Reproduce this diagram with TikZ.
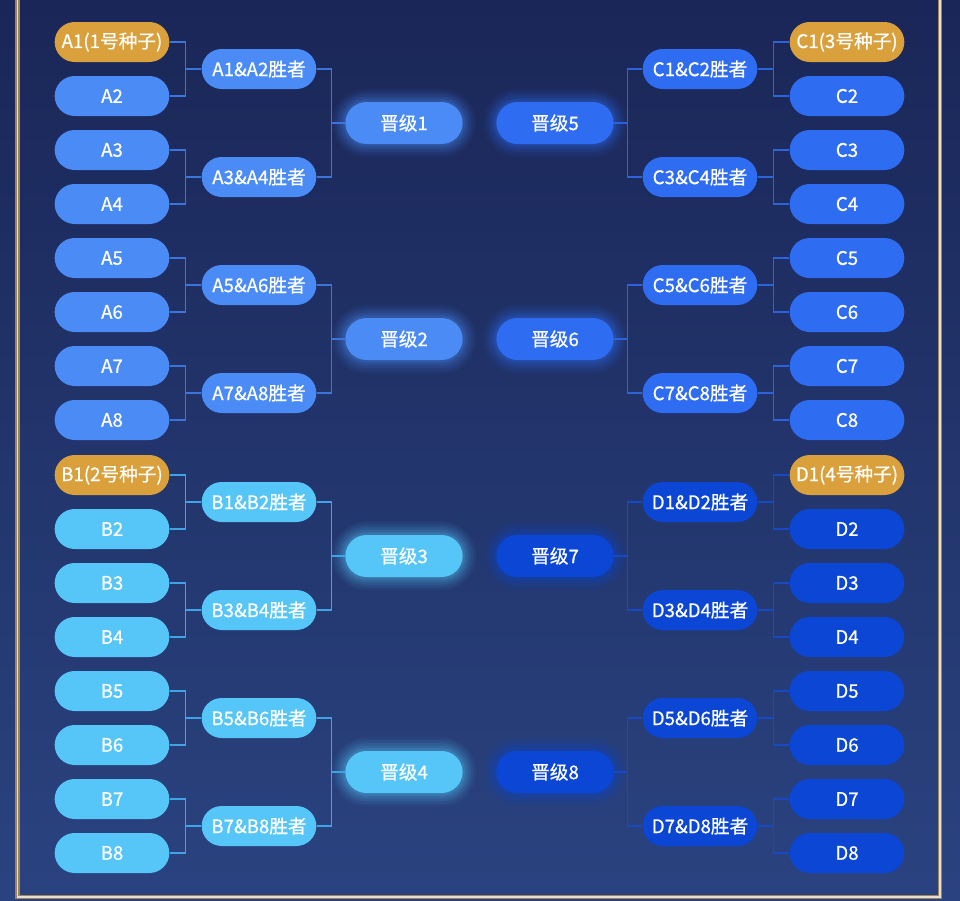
\documentclass[tikz,border=0pt]{standalone}
\usepackage{fontspec}
\setmainfont{Noto Sans CJK SC}
\newfontfamily\pillfont{Noto Sans CJK SC}[FakeBold=0.7]
\usetikzlibrary{shapes.misc}

\definecolor{bgtop}{HTML}{1A2657}
\definecolor{bgbot}{HTML}{2A4380}
\definecolor{barout}{HTML}{9C845E}
\definecolor{barin}{HTML}{EADFC8}
\definecolor{seedgold}{HTML}{D9A03C}
\definecolor{grpA}{HTML}{4A8BF5}
\definecolor{grpB}{HTML}{55C6F7}
\definecolor{grpC}{HTML}{2E6CF1}
\definecolor{grpD}{HTML}{0B47D4}
\definecolor{lnA}{HTML}{3D74D9}
\definecolor{lnB}{HTML}{3FA4E6}
\definecolor{lnC}{HTML}{2D62D8}
\definecolor{lnD}{HTML}{1848C2}

\tikzset{
  pill/.style={rounded rectangle, fill=#1, text=white, minimum width=86pt,
    minimum height=30pt, inner sep=0pt, font=\pillfont\fontsize{14}{16}\selectfont},
  seed/.style={pill=seedgold},
  glowpill/.style={pill=#1, minimum width=88pt, minimum height=31.5pt,
    preaction={draw=#1, line width=20pt, opacity=.06},
    preaction={draw=#1, line width=16pt, opacity=.08},
    preaction={draw=#1, line width=12pt, opacity=.10},
    preaction={draw=#1, line width=8pt, opacity=.13},
    preaction={draw=#1, line width=4pt, opacity=.18}},
  link/.style={draw=#1, line width=1.1pt},
  framebar/.style={draw=barout, line width=3.5pt},
  framecore/.style={draw=barin, line width=1pt}
}

\begin{document}
\begin{tikzpicture}[x=0.75pt,y=0.75pt,yscale=-1,xscale=1]
\useasboundingbox (0,0) rectangle (960,900);

%Background
\shade[top color=bgtop, bottom color=bgbot] (0,0) rectangle (960,900);
%Frame
\draw[framebar] (17.5,-5) -- (17.5,897) -- (940,897) -- (940,-5);
\draw[framecore] (17.5,-5) -- (17.5,897) -- (940,897) -- (940,-5);

%Group A, first round
\node[seed] (a1) at (112,42) {A1(1号种子)};
\node[pill=grpA] (a2) at (112,96) {A2};
\node[pill=grpA] (a3) at (112,150) {A3};
\node[pill=grpA] (a4) at (112,204) {A4};
\node[pill=grpA] (a5) at (112,258) {A5};
\node[pill=grpA] (a6) at (112,312) {A6};
\node[pill=grpA] (a7) at (112,366) {A7};
\node[pill=grpA] (a8) at (112,420) {A8};
%Group B, first round
\node[seed] (b1) at (112,475) {B1(2号种子)};
\node[pill=grpB] (b2) at (112,529) {B2};
\node[pill=grpB] (b3) at (112,583) {B3};
\node[pill=grpB] (b4) at (112,637) {B4};
\node[pill=grpB] (b5) at (112,691) {B5};
\node[pill=grpB] (b6) at (112,745) {B6};
\node[pill=grpB] (b7) at (112,799) {B7};
\node[pill=grpB] (b8) at (112,853) {B8};

%Left winners
\node[pill=grpA] (wa12) at (259,69) {A1\&A2胜者};
\node[pill=grpA] (wa34) at (259,177) {A3\&A4胜者};
\node[pill=grpA] (wa56) at (259,285) {A5\&A6胜者};
\node[pill=grpA] (wa78) at (259,393) {A7\&A8胜者};
\node[pill=grpB] (wb12) at (259,502) {B1\&B2胜者};
\node[pill=grpB] (wb34) at (259,610) {B3\&B4胜者};
\node[pill=grpB] (wb56) at (259,718) {B5\&B6胜者};
\node[pill=grpB] (wb78) at (259,826) {B7\&B8胜者};

%Promotions
\node[glowpill=grpA] (up1) at (404,123) {晋级1};
\node[glowpill=grpA] (up2) at (404,339) {晋级2};
\node[glowpill=grpB] (up3) at (404,556) {晋级3};
\node[glowpill=grpB] (up4) at (404,772) {晋级4};
\node[glowpill=grpC] (up5) at (555,123) {晋级5};
\node[glowpill=grpC] (up6) at (555,339) {晋级6};
\node[glowpill=grpD] (up7) at (555,556) {晋级7};
\node[glowpill=grpD] (up8) at (555,772) {晋级8};

%Right winners
\node[pill=grpC] (wc12) at (700,69) {C1\&C2胜者};
\node[pill=grpC] (wc34) at (700,177) {C3\&C4胜者};
\node[pill=grpC] (wc56) at (700,285) {C5\&C6胜者};
\node[pill=grpC] (wc78) at (700,393) {C7\&C8胜者};
\node[pill=grpD] (wd12) at (700,502) {D1\&D2胜者};
\node[pill=grpD] (wd34) at (700,610) {D3\&D4胜者};
\node[pill=grpD] (wd56) at (700,718) {D5\&D6胜者};
\node[pill=grpD] (wd78) at (700,826) {D7\&D8胜者};

%Group C, first round
\node[seed] (c1) at (847,42) {C1(3号种子)};
\node[pill=grpC] (c2) at (847,96) {C2};
\node[pill=grpC] (c3) at (847,150) {C3};
\node[pill=grpC] (c4) at (847,204) {C4};
\node[pill=grpC] (c5) at (847,258) {C5};
\node[pill=grpC] (c6) at (847,312) {C6};
\node[pill=grpC] (c7) at (847,366) {C7};
\node[pill=grpC] (c8) at (847,420) {C8};
%Group D, first round
\node[seed] (d1) at (847,475) {D1(4号种子)};
\node[pill=grpD] (d2) at (847,529) {D2};
\node[pill=grpD] (d3) at (847,583) {D3};
\node[pill=grpD] (d4) at (847,637) {D4};
\node[pill=grpD] (d5) at (847,691) {D5};
\node[pill=grpD] (d6) at (847,745) {D6};
\node[pill=grpD] (d7) at (847,799) {D7};
\node[pill=grpD] (d8) at (847,853) {D8};

%Brackets, left side
\draw[link=lnA] (a1.east) -- ++(16,0) |- (wa12.west);
\draw[link=lnA] (a2.east) -- ++(16,0) |- (wa12.west);
\draw[link=lnA] (a3.east) -- ++(16,0) |- (wa34.west);
\draw[link=lnA] (a4.east) -- ++(16,0) |- (wa34.west);
\draw[link=lnA] (a5.east) -- ++(16,0) |- (wa56.west);
\draw[link=lnA] (a6.east) -- ++(16,0) |- (wa56.west);
\draw[link=lnA] (a7.east) -- ++(16,0) |- (wa78.west);
\draw[link=lnA] (a8.east) -- ++(16,0) |- (wa78.west);
\draw[link=lnB] (b1.east) -- ++(16,0) |- (wb12.west);
\draw[link=lnB] (b2.east) -- ++(16,0) |- (wb12.west);
\draw[link=lnB] (b3.east) -- ++(16,0) |- (wb34.west);
\draw[link=lnB] (b4.east) -- ++(16,0) |- (wb34.west);
\draw[link=lnB] (b5.east) -- ++(16,0) |- (wb56.west);
\draw[link=lnB] (b6.east) -- ++(16,0) |- (wb56.west);
\draw[link=lnB] (b7.east) -- ++(16,0) |- (wb78.west);
\draw[link=lnB] (b8.east) -- ++(16,0) |- (wb78.west);
\draw[link=lnA] (wa12.east) -- ++(15,0) |- (up1.west);
\draw[link=lnA] (wa34.east) -- ++(15,0) |- (up1.west);
\draw[link=lnA] (wa56.east) -- ++(15,0) |- (up2.west);
\draw[link=lnA] (wa78.east) -- ++(15,0) |- (up2.west);
\draw[link=lnB] (wb12.east) -- ++(15,0) |- (up3.west);
\draw[link=lnB] (wb34.east) -- ++(15,0) |- (up3.west);
\draw[link=lnB] (wb56.east) -- ++(15,0) |- (up4.west);
\draw[link=lnB] (wb78.east) -- ++(15,0) |- (up4.west);

%Brackets, right side
\draw[link=lnC] (c1.west) -- ++(-16,0) |- (wc12.east);
\draw[link=lnC] (c2.west) -- ++(-16,0) |- (wc12.east);
\draw[link=lnC] (c3.west) -- ++(-16,0) |- (wc34.east);
\draw[link=lnC] (c4.west) -- ++(-16,0) |- (wc34.east);
\draw[link=lnC] (c5.west) -- ++(-16,0) |- (wc56.east);
\draw[link=lnC] (c6.west) -- ++(-16,0) |- (wc56.east);
\draw[link=lnC] (c7.west) -- ++(-16,0) |- (wc78.east);
\draw[link=lnC] (c8.west) -- ++(-16,0) |- (wc78.east);
\draw[link=lnD] (d1.west) -- ++(-16,0) |- (wd12.east);
\draw[link=lnD] (d2.west) -- ++(-16,0) |- (wd12.east);
\draw[link=lnD] (d3.west) -- ++(-16,0) |- (wd34.east);
\draw[link=lnD] (d4.west) -- ++(-16,0) |- (wd34.east);
\draw[link=lnD] (d5.west) -- ++(-16,0) |- (wd56.east);
\draw[link=lnD] (d6.west) -- ++(-16,0) |- (wd56.east);
\draw[link=lnD] (d7.west) -- ++(-16,0) |- (wd78.east);
\draw[link=lnD] (d8.west) -- ++(-16,0) |- (wd78.east);
\draw[link=lnC] (wc12.west) -- ++(-15,0) |- (up5.east);
\draw[link=lnC] (wc34.west) -- ++(-15,0) |- (up5.east);
\draw[link=lnC] (wc56.west) -- ++(-15,0) |- (up6.east);
\draw[link=lnC] (wc78.west) -- ++(-15,0) |- (up6.east);
\draw[link=lnD] (wd12.west) -- ++(-15,0) |- (up7.east);
\draw[link=lnD] (wd34.west) -- ++(-15,0) |- (up7.east);
\draw[link=lnD] (wd56.west) -- ++(-15,0) |- (up8.east);
\draw[link=lnD] (wd78.west) -- ++(-15,0) |- (up8.east);

\end{tikzpicture}
\end{document}
